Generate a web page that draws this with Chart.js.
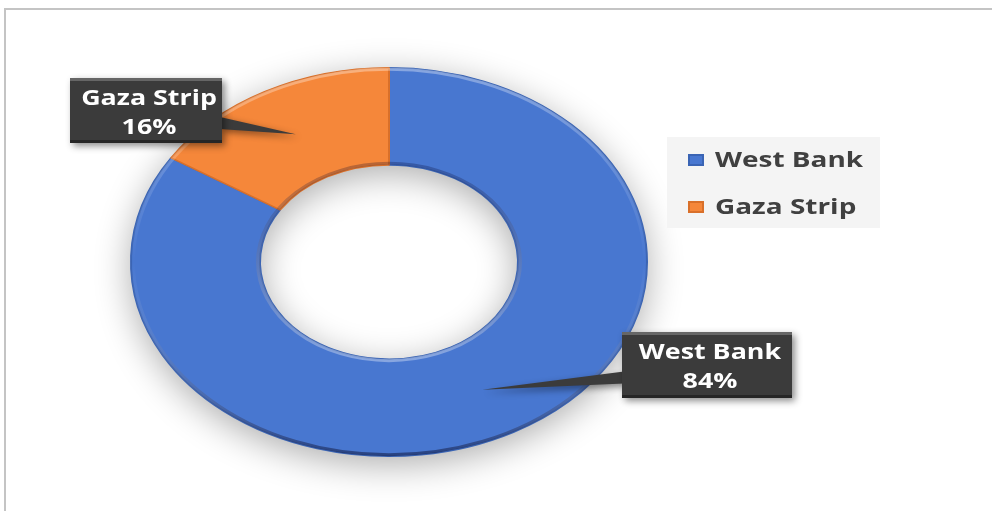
<!DOCTYPE html>
<html>
<head>
<meta charset="utf-8">
<script src="https://cdn.jsdelivr.net/npm/chart.js@4.4.0/dist/chart.umd.min.js"></script>
<style>
  html, body { margin: 0; background: #fff; overflow: hidden; }
  #frame { position: absolute; left: 4px; top: 8px; width: 995px; height: 510px;
           border-left: 2px solid #c4c4c4; border-top: 2px solid #c4c4c4; }
  #wrap { position: absolute; left: 0; top: 0; }
</style>
</head>
<body>
<div id="frame"></div>
<div id="wrap"><canvas id="donut" width="992" height="511"></canvas></div>
<script>
// population share by region
const regions = ['West Bank', 'Gaza Strip'];
const shares = [84, 16];
const sliceColors = ['#4877D0', '#F5873A'];
const sliceEdges = ['#3a64b4', '#d9702a'];

// ring is drawn wider than tall
const stretchX = 259 / 195;

// where the dark callout boxes sit, and which side the pointer leaves from
const callouts = [
    { x: 622, y: 332, w: 170, h: 66, side: 'left' },
    { x: 70, y: 78, w: 152, h: 65, side: 'right' }
];

const fontFamily = '"Open Sans", "Noto Sans", sans-serif';

// text in this chart is set wide
function wideText(ctx, text, x, y, sx) {
    ctx.save();
    ctx.translate(x, y);
    ctx.scale(sx, 1);
    ctx.fillText(text, 0, 0);
    ctx.restore();
}

function ringCenter(chart) {
    const arc = chart.getDatasetMeta(0).data[0];
    return { x: arc.x, y: arc.y, outer: arc.outerRadius, inner: arc.innerRadius };
}

const ovalRing = {
    id: 'ovalRing',
    beforeDatasetsDraw(chart) {
        const ctx = chart.ctx;
        const c = ringCenter(chart);
        ctx.save();
        ctx.translate(c.x, 0);
        ctx.scale(stretchX, 1);
        ctx.translate(-c.x, 0);

        // soft drop shadow under the whole ring
        ctx.save();
        ctx.shadowColor = 'rgba(0,0,0,0.33)';
        ctx.shadowBlur = 36;
        ctx.shadowOffsetY = 8;
        ctx.fillStyle = '#ffffff';
        ctx.beginPath();
        ctx.arc(c.x, c.y, c.outer, 0, Math.PI * 2);
        ctx.arc(c.x, c.y, c.inner, 0, Math.PI * 2, true);
        ctx.fill();
        ctx.restore();
    },
    afterDatasetsDraw(chart) {
        const ctx = chart.ctx;
        const c = ringCenter(chart);
        // bevel: light rim on top, darker rim at the bottom
        const g = ctx.createLinearGradient(0, c.y - c.outer, 0, c.y + c.outer);
        g.addColorStop(0, 'rgba(255,255,255,0.35)');
        g.addColorStop(0.5, 'rgba(255,255,255,0)');
        g.addColorStop(1, 'rgba(0,0,30,0.45)');
        ctx.strokeStyle = g;
        ctx.lineWidth = 3;
        ctx.beginPath();
        ctx.arc(c.x, c.y, c.outer - 1.5, 0, Math.PI * 2);
        ctx.stroke();
        // inner rim highlight
        const h = ctx.createLinearGradient(0, c.y - c.inner, 0, c.y + c.inner);
        h.addColorStop(0, 'rgba(0,0,40,0.25)');
        h.addColorStop(1, 'rgba(255,255,255,0.35)');
        ctx.strokeStyle = h;
        ctx.lineWidth = 3;
        ctx.beginPath();
        ctx.arc(c.x, c.y, c.inner + 1.5, 0, Math.PI * 2);
        ctx.stroke();
        ctx.restore();
    },
    afterDraw(chart) {
        const ctx = chart.ctx;
        const c = ringCenter(chart);
        const arcs = chart.getDatasetMeta(0).data;
        const total = shares.reduce((a, b) => a + b, 0);

        arcs.forEach((arc, i) => {
            const p = arc.tooltipPosition();
            const tip = { x: c.x + (p.x - c.x) * stretchX, y: p.y };
            const b = callouts[i];
            const edgeX = b.side === 'left' ? b.x + 2 : b.x + b.w - 2;
            const y0 = b.y + b.h * 0.6;

            ctx.save();
            ctx.shadowColor = 'rgba(0,0,0,0.45)';
            ctx.shadowBlur = 7;
            ctx.shadowOffsetX = 3;
            ctx.shadowOffsetY = 3;
            ctx.fillStyle = '#3b3b3b';
            ctx.beginPath();
            ctx.moveTo(edgeX, y0);
            ctx.lineTo(tip.x, tip.y);
            ctx.lineTo(edgeX, y0 + 12);
            ctx.closePath();
            ctx.fill();
            ctx.fillRect(b.x, b.y, b.w, b.h);
            ctx.restore();

            // bevel edges of the box
            ctx.fillStyle = 'rgba(255,255,255,0.22)';
            ctx.fillRect(b.x, b.y, b.w, 3);
            ctx.fillStyle = 'rgba(0,0,0,0.35)';
            ctx.fillRect(b.x, b.y + b.h - 3, b.w, 3);

            const pct = Math.round(shares[i] / total * 100) + '%';
            ctx.fillStyle = '#ffffff';
            ctx.font = 'bold 22px ' + fontFamily;
            ctx.textAlign = 'center';
            ctx.textBaseline = 'middle';
            wideText(ctx, regions[i], b.x + b.w / 2 + 3, b.y + 21, 1.22);
            wideText(ctx, pct, b.x + b.w / 2 + 3, b.y + 50, 1.22);
        });

        // legend panel
        ctx.fillStyle = '#f4f4f4';
        ctx.fillRect(667, 137, 213, 91);
        ctx.font = 'bold 21.5px ' + fontFamily;
        ctx.textAlign = 'left';
        ctx.textBaseline = 'middle';
        regions.forEach((name, i) => {
            const y = 160 + i * 47;
            ctx.fillStyle = sliceEdges[i];
            ctx.fillRect(688, y - 6, 16, 12);
            ctx.fillStyle = sliceColors[i];
            ctx.fillRect(690, y - 4, 12, 8);
            ctx.fillStyle = '#404040';
            wideText(ctx, name, 715, y + 1, 1.3);
        });
    }
};

const ctx = document.getElementById('donut').getContext('2d');
const donut = new Chart(ctx, {
    type: 'doughnut',
    data: {
        labels: regions,
        datasets: [{
            data: shares,
            backgroundColor: sliceColors,
            borderColor: sliceEdges,
            borderWidth: 1.5,
            clip: false
        }]
    },
    options: {
        responsive: false,
        animation: false,
        cutout: '50%',
        layout: { padding: { left: 194, right: 408, top: 67, bottom: 54 } },
        plugins: {
            legend: { display: false },
            tooltip: { enabled: false }
        }
    },
    plugins: [ovalRing]
});
</script>
</body>
</html>
